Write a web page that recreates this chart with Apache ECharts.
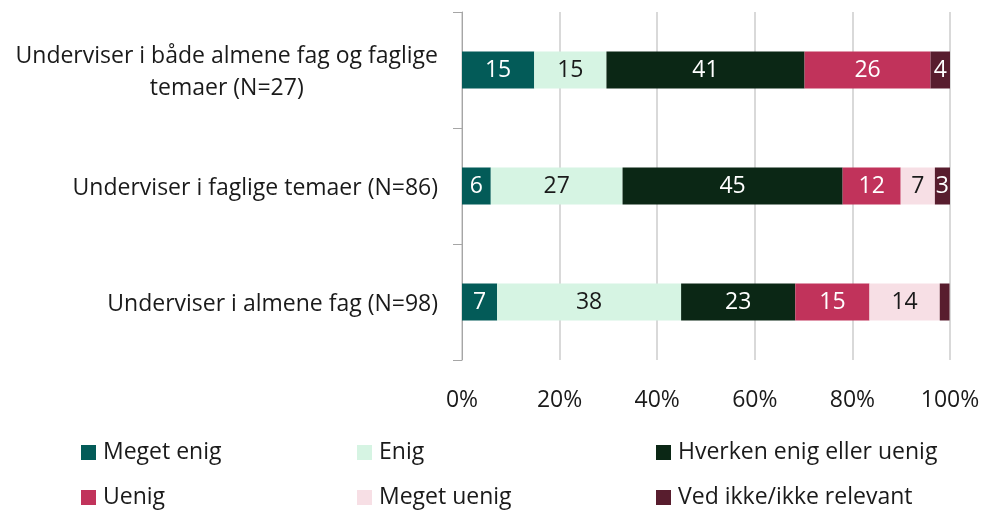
<!DOCTYPE html>
<html>
<head>
<meta charset="utf-8">
<script src="https://cdn.jsdelivr.net/npm/echarts@6/dist/echarts.min.js"></script>
<style>
html,body{margin:0;padding:0;background:#fff;}
#chart{width:988px;height:513px;}
</style>
</head>
<body>
<div id="chart"></div>
<script>
const categories = [
  'Underviser i både almene fag og faglige\ntemaer (N=27)',
  'Underviser i faglige temaer (N=86)',
  'Underviser i almene fag (N=98)'
];
const seriesNames = ['Meget enig', 'Enig', 'Hverken enig eller uenig', 'Uenig', 'Meget uenig', 'Ved ikke/ikke relevant'];
const megetEnig = [14.8, 5.9, 7.2];
const enig = [14.8, 27.0, 37.7];
const hverken = [40.6, 45.1, 23.4];
const uenig = [25.8, 11.9, 15.2];
const megetUenig = [0, 7.0, 14.4];
const vedIkke = [4.0, 3.1, 2.0];
const tickLabels = ['0%', '20%', '40%', '60%', '80%', '100%'];

const colors = ['#035b58', '#d6f4e3', '#0b2715', '#c1335b', '#f7dfe5', '#581d2e'];
const labelColors = ['#ffffff', '#1a1a1a', '#ffffff', '#ffffff', '#1a1a1a', '#ffffff'];
const allData = [megetEnig, enig, hverken, uenig, megetUenig, vedIkke];
const FONT = '"Open Sans", "Noto Sans", sans-serif';
const FS = 23;

const chart = echarts.init(document.getElementById('chart'));
const series = seriesNames.map((name, i) => ({
  name: name,
  type: 'bar',
  stack: 'total',
  barWidth: 37,
  data: allData[i],
  itemStyle: { color: colors[i] },
  label: {
    show: true,
    position: 'inside',
    color: labelColors[i],
    fontFamily: FONT,
    fontSize: FS,
    formatter: p => (p.value < 2.5 ? '' : String(Math.round(p.value)))
  }
}));

const legendLeft = [81, 357, 656];
const legendTop = [441, 486];
function legendItem(i) {
  const col = i % 3, row = Math.floor(i / 3);
  return {
    orient: 'horizontal',
    left: legendLeft[col],
    top: legendTop[row],
    padding: 0,
    itemWidth: 15,
    itemHeight: 15,
    icon: 'rect',
    data: [seriesNames[i]],
    textStyle: { fontFamily: FONT, fontSize: FS, color: '#1a1a1a', padding: [0, 0, 0, 2] }
  };
}

chart.setOption({
  animation: false,
  textStyle: { fontFamily: FONT },
  grid: { left: 462, right: 38, top: 12, bottom: 153, containLabel: false },
  legend: seriesNames.map((n, i) => legendItem(i)),
  xAxis: {
    type: 'value',
    min: 0,
    max: 100,
    interval: 20,
    axisLine: { show: false },
    axisTick: { show: false },
    splitLine: { show: true, lineStyle: { color: '#d9d9d9', width: 2 } },
    axisLabel: {
      margin: 29,
      fontFamily: FONT,
      fontSize: FS,
      color: '#1a1a1a',
      formatter: v => tickLabels[Math.round(v / 20)]
    }
  },
  yAxis: {
    type: 'category',
    inverse: true,
    data: categories,
    axisLine: { show: true, lineStyle: { color: '#a6a6a6', width: 1 } },
    axisTick: { show: true, length: 9, lineStyle: { color: '#a6a6a6' } },
    axisLabel: {
      margin: 24,
      fontFamily: FONT,
      fontSize: FS,
      color: '#1a1a1a',
      lineHeight: 32,
      padding: [4, 0, 0, 0],
      formatter: v => v.split('\n').map(s => '{c|' + s + '}').join('\n'),
      rich: { c: { align: 'center', fontFamily: FONT, fontSize: FS, color: '#1a1a1a', lineHeight: 32 } }
    }
  },
  series: series
});
</script>
</body>
</html>
